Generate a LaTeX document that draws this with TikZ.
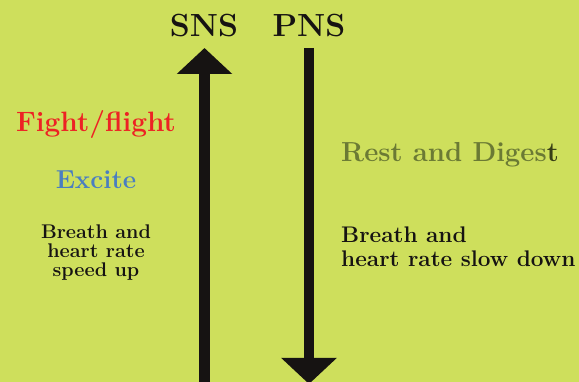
\documentclass[tikz,border=0pt]{standalone}
\usetikzlibrary{arrows.meta}
\definecolor{bg}{RGB}{206,223,92}
\definecolor{fred}{RGB}{237,34,36}
\definecolor{eblue}{RGB}{74,126,193}
\definecolor{olive}{RGB}{107,122,52}
\definecolor{dkolive}{RGB}{55,62,22}
\definecolor{ink}{RGB}{22,19,18}
\begin{document}
\begin{tikzpicture}[x=1pt,y=-1pt,
  title/.style={font=\fontsize{32}{38}\selectfont\bfseries, text=ink, anchor=base, inner sep=0pt},
  big/.style={font=\fontsize{28}{32}\selectfont\bfseries, anchor=base, inner sep=0pt},
  smallL/.style={font=\fontsize{19.8}{19}\selectfont\bfseries, text=ink, align=center, anchor=base, inner sep=0pt},
  smallR/.style={font=\fontsize{22.6}{24}\selectfont\bfseries, text=ink, align=left, anchor=base west, inner sep=0pt},
  bigarrow/.style={draw=ink, line width=10.5pt, -{Triangle[length=26pt,width=54pt]}}]
\useasboundingbox (0,0) rectangle (579,382);
\clip (0,0) rectangle (579,382);
\fill[bg] (0,0) rectangle (579,382);
% titles
\node[title] (sns) at (204,37) {SNS};
\node[title] (pns) at (309,37) {PNS};
% arrows
\coordinate (snsbot) at (204.5,400);
\coordinate (snstip) at (204.5,48);
\coordinate (pnstop) at (309,48);
\coordinate (pnstip) at (309,384);
\draw[bigarrow] (snsbot) -- (snstip);
\draw[bigarrow] (pnstop) -- (pnstip);
% left texts
\node[big, text=fred] (fight) at (96,132) {Fight/flight};
\node[big, font=\fontsize{26}{30}\selectfont\bfseries, text=eblue] (excite) at (96,189) {Excite};
\node[smallL] (speed) at (96,277) {Breath and\\heart rate\\speed up};
% right texts
\node[big, font=\fontsize{27.5}{32}\selectfont\bfseries, anchor=base west, text=olive] (rest) at (341,162) {Rest and Diges{\color{dkolive}t}};
\node[smallR] (slow) at (341,267) {Breath and\\heart rate slow down};
\end{tikzpicture}
\end{document}
